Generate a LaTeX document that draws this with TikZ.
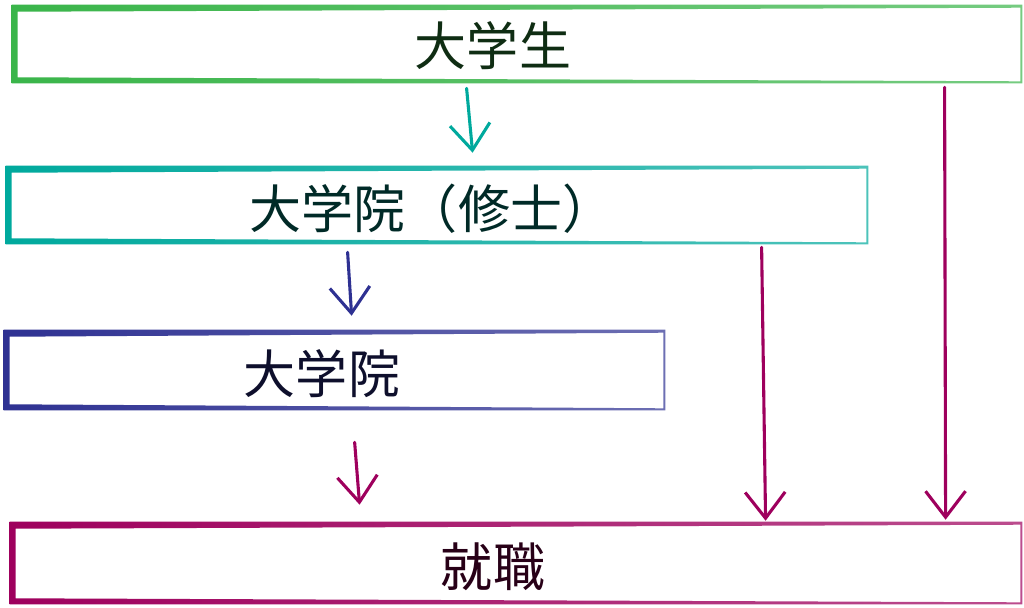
\documentclass[tikz,border=0pt]{standalone}
\usepackage{fontspec}
\setmainfont{Noto Sans CJK JP}
\usepackage{tikz}
\usetikzlibrary{arrows.meta, calc, positioning}
\definecolor{cgreen}{HTML}{3AB54A}
\definecolor{cteal}{HTML}{00A99D}
\definecolor{cblue}{HTML}{2E3192}
\definecolor{cmag}{HTML}{9E005D}
\tikzset{box/.style={minimum height=1.95cm, inner sep=0pt},
    label/.style={font=\fontsize{37}{40}\selectfont},
    arr/.style={line width=2.2pt, line cap=round, line join=round,
        -{Straight Barb[length=0.65cm, width=1cm, line width=2.2pt]}}
}
% tapered frame round a box node
\newcommand{\taperbox}[2]{
    \path[even odd rule, left color=#2, middle color=#2, right color=#2!70]
        (#1.north west) -- (#1.north east) -- (#1.south east) -- (#1.south west) -- cycle
        ($(#1.north west)+(6,7)$) -- ($(#1.north east)+(-2,3)$)
        -- ($(#1.south east)+(-2,-2)$) -- ($(#1.south west)+(6,-6)$) -- cycle;
}

\begin{document}
\begin{tikzpicture}[x=0.025cm, y=-0.025cm]
        \useasboundingbox (0, 0) rectangle (1024, 607);

        \node[box, minimum width=25.25cm] (gakusei) at (517, 44) {};
        \node[box, minimum width=21.55cm] (shushi) at (437, 205) {};
        \node[box, minimum width=16.525cm, minimum height=2cm] (in) at (334.5, 370) {};
        \node[box, minimum width=25.3cm, minimum height=2.05cm] (shushoku) at (516, 563) {};

        \taperbox{gakusei}{cgreen}
        \taperbox{shushi}{cteal}
        \taperbox{in}{cblue}
        \taperbox{shushoku}{cmag}

        \node[label, text=cgreen!25!black] (gakuseiT) at (493, 46) {大学生};
        \node[label, text=cteal!25!black] (shushiT) at (432, 209) {大学院（修士）};
        \node[label, text=cblue!30!black] (inT) at (322, 374) {大学院};
        \node[label, text=cmag!25!black] (shushokuT) at (493, 567) {就職};

        \draw[arr, cteal] ($(gakusei.south west)+(455, 5)$) -- ($(shushi.north west)+(467, -13)$);
        \draw[arr, cblue] ($(shushi.south west)+(342, 8)$) -- ($(in.north west)+(348, -14)$);
        \draw[arr, cmag] ($(in.south west)+(351, 32)$) -- ($(shushoku.north west)+(350, -17)$);
        \draw[arr, cmag] ($(shushi.south west)+(756, 3)$) -- ($(shushoku.north west)+(756, -1)$);
        \draw[arr, cmag] ($(gakusei.south west)+(933, 4)$) -- ($(shushoku.north west)+(936, -2)$);
    \end{tikzpicture}
\end{document}
